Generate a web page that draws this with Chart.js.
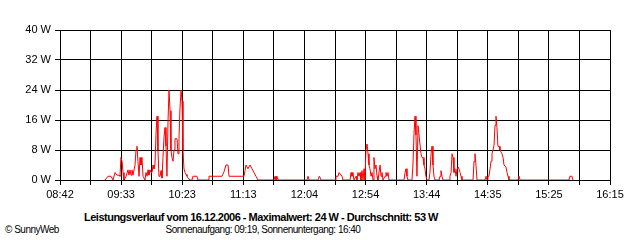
<!DOCTYPE html>
<html>
<head>
<meta charset="utf-8">
<script src="https://cdn.jsdelivr.net/npm/chart.js@4.4.0/dist/chart.umd.min.js"></script>
<style>
body { margin: 0; background: #fff; }
#wrap { position: relative; width: 640px; height: 240px; font-family: "Liberation Sans", Arial, sans-serif; color: #000; }
#title { position: absolute; left: 0; width: 522px; top: 211px; text-align: center; font-weight: bold; font-size: 11px; letter-spacing: -0.5px; }
#sub { position: absolute; left: 0; width: 526px; top: 224px; text-align: center; font-size: 10px; letter-spacing: -0.5px; }
#copy { position: absolute; left: 5px; top: 224px; font-size: 10px; letter-spacing: -0.5px; }
</style>
</head>
<body>
<div id="wrap">
<canvas id="myChart" width="640" height="200"></canvas>
<div id="title">Leistungsverlauf vom 16.12.2006 - Maximalwert: 24 W - Durchschnitt: 53 W</div>
<div id="copy">© SunnyWeb</div>
<div id="sub">Sonnenaufgang: 09:19, Sonnenuntergang: 16:40</div>
</div>
<script>
// minutes after 08:42
const minutes = [37.1, 39.5, 42.0, 43.7, 45.3, 46.9, 48.6, 49.4, 50.2, 51.1, 51.9, 52.7, 54.4, 56.0, 56.8, 57.7, 58.5, 59.3, 60.1,
    61.8, 62.6, 63.4, 64.2, 65.1, 65.9, 66.7, 67.5, 68.4, 70.0, 70.8, 71.7, 72.5, 73.3, 74.1, 75.0, 75.8, 76.6, 77.4, 78.2,
    79.1, 79.9, 80.7, 81.5, 82.4, 83.2, 84.0, 84.8, 85.7, 86.5, 87.3, 88.1, 89.0, 89.8, 90.6, 91.4, 92.2, 93.1, 93.9, 94.7,
    95.5, 96.4, 97.2, 98.0, 98.8, 99.7, 100.5, 101.3, 102.1, 103.0, 103.8, 104.6, 105.4, 107.1, 108.7, 109.5, 112.8, 113.7,
    121.9, 122.7, 133.4, 135.1, 136.7, 138.4, 139.2, 151.5, 152.4, 153.2, 154.8, 156.5, 158.1, 159.8, 161.4, 163.1,
    176.3, 177.1, 177.9, 178.7, 179.6, 203.5, 204.3, 205.1, 212.5, 213.7, 215.0,
    226.5, 227.3, 229.0, 229.8, 230.6, 232.3, 233.1, 238.9, 239.7, 240.5, 241.3, 242.1, 243.8, 244.6, 245.4, 246.3, 247.1,
    247.9, 248.7, 249.6, 250.4, 251.2, 252.0, 252.9, 253.7, 254.5, 255.3, 256.2, 257.0, 257.8, 258.6, 259.4, 260.3, 261.1,
    261.9, 263.6, 264.4, 265.2, 266.0, 267.7, 268.5, 269.3, 270.2, 271.0,
    283.3, 284.2, 285.0, 285.8, 286.6, 289.9, 290.7, 291.6, 292.4, 293.2, 294.0, 294.9, 295.7, 296.5, 297.3, 298.2, 299.0,
    299.8, 300.6, 301.4, 302.3, 303.9, 304.7, 305.6, 306.4, 307.2, 308.0, 308.9, 312.2, 313.0, 313.8, 314.6, 315.5,
    320.4, 321.2, 322.1, 322.9, 323.7, 324.5, 325.3, 326.2, 327.0, 327.8, 328.6, 329.5, 330.3, 331.1,
    340.2, 341.0, 341.8, 342.6, 343.5, 350.0, 350.9, 351.7, 352.5, 353.3, 354.2, 355.0, 355.8, 356.6, 357.5, 358.3, 359.1,
    359.9, 360.7, 361.6, 362.4, 363.2, 364.0, 364.9, 365.7, 366.5, 367.3, 368.2, 369.0, 369.8, 377.2, 378.1, 378.9,
    419.2, 420.0, 421.7, 422.5];
const watts = [0, 1, 1, 0, 2, 1.3, 1.3, 1, 6, 5, 2, 0, 1, 2.7, 1.3, 2.7, 1.3, 2.7, 1.3,
    4, 8, 9, 5, 1, 6, 4, 6, 1, 0, 2, 1, 2.7, 1.3, 2.7, 2, 2, 4, 3, 4,
    12.5, 17, 8, 1, 1, 2.5, 0.5, 6, 11.5, 14, 9, 1, 16, 24, 18.5, 8, 6, 5, 8, 11,
    11, 11, 7, 11, 19, 24, 21, 8, 3, 2, 1.5, 1, 0.5, 0, 0, 1, 1, 0,
    0, 1, 1, 2.2, 4, 4, 1, 1, 2.5, 4, 3, 4, 3, 2, 1, 0,
    0, 1, 0, 1, 0, 0, 1, 0, 0, 1, 0,
    0, 1, 1, 2, 2, 1, 0, 0, 2, 1, 2, 0, 1, 0, 2, 1, 2,
    0, 2.5, 0, 3, 0, 8, 9.6, 7, 4, 3, 1, 2, 0, 6, 3, 4, 1,
    0, 4, 1, 2, 0, 1, 2, 1, 2, 0,
    0, 2, 3, 1, 0, 0, 4, 12.5, 17, 12, 1, 14.5, 12, 12, 7, 6, 6,
    4, 3, 1, 0, 0, 2, 7, 9, 4, 1, 0, 0, 1, 2.5, 1, 0,
    0, 1, 2, 7, 6, 2, 3, 1, 3, 3.5, 3, 2, 1, 0,
    0, 5, 7, 4, 0, 0, 1, 0, 1, 1, 3, 5, 7, 8, 9.3, 14.6, 17,
    14, 9, 9, 8, 7.5, 7, 6, 4, 4, 3.5, 2, 1, 0, 0, 1, 0,
    0, 1, 1, 0];
const tickLabels = ['08:42', '09:33', '10:23', '11:13', '12:04', '12:54', '13:44', '14:35', '15:25', '16:15'];
const span = 453; // 08:42 -> 16:15

const ctx = document.getElementById('myChart').getContext('2d');
const myChart = new Chart(ctx, {
    type: 'line',
    data: {
        datasets: [{
            data: minutes.map((m, i) => ({ x: m, y: watts[i] })),
            borderColor: '#ff0000',
            borderWidth: 1,
            pointRadius: 0,
            tension: 0,
            fill: false
        }]
    },
    options: {
        responsive: false,
        animation: false,
        devicePixelRatio: 1,
        layout: { padding: { top: 30, right: 30, left: 0, bottom: 0 } },
        plugins: { legend: { display: false }, tooltip: { enabled: false } },
        scales: {
            x: {
                type: 'linear',
                min: 0,
                max: span,
                afterBuildTicks: s => {
                    s.ticks = [];
                    for (let i = 0; i <= 18; i++) s.ticks.push({ value: i * span / 18 });
                },
                afterFit: s => { s.height = 20; },
                grid: { color: '#000', lineWidth: 1, tickLength: 5, tickColor: '#000' },
                border: { color: '#000', width: 1 },
                ticks: {
                    autoSkip: false, maxRotation: 0, padding: 3,
                    color: '#000', font: { family: 'Liberation Sans', size: 11 },
                    callback: (v, i) => i % 2 === 0 ? tickLabels[i / 2] : ''
                }
            },
            y: {
                min: 0,
                max: 40,
                afterFit: s => { s.width = 60; },
                grid: { color: '#000', lineWidth: 1, tickLength: 5, tickColor: '#000' },
                border: { color: '#000', width: 1 },
                ticks: {
                    stepSize: 8, padding: 4,
                    color: '#000', font: { family: 'Liberation Sans', size: 11 },
                    callback: v => v + ' W'
                }
            }
        }
    }
});
</script>
</body>
</html>
